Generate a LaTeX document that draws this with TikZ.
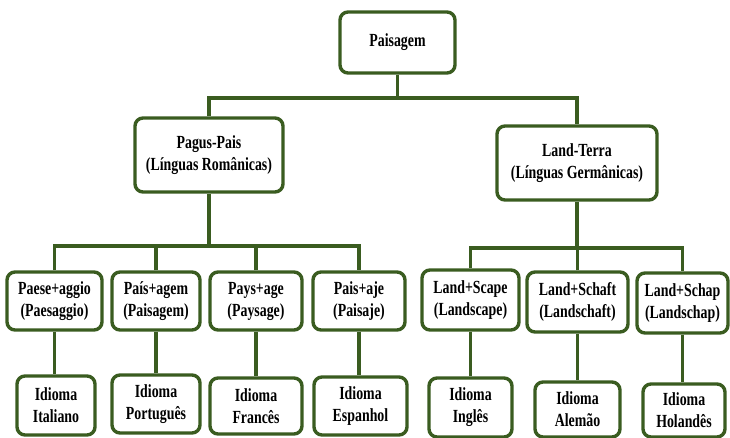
\documentclass[tikz,border=0pt]{standalone}
\usepackage{fontspec}
\setmainfont{Liberation Serif}[FakeStretch=0.75]
\definecolor{boxgreen}{RGB}{58,92,32}
\begin{document}
\begin{tikzpicture}[x=1pt,y=-1pt,
  box/.style={draw=boxgreen, line width=3.4pt, rounded corners=8pt, fill=white,
    align=center, inner sep=2pt, font=\bfseries\fontsize{18.5}{22}\selectfont},
  link/.style={draw=boxgreen, line width=3.4pt}]
\useasboundingbox (0,0) rectangle (730,438);
% level 1
\node[box, minimum width=115pt, minimum height=61pt] (top) at (397.5,42.5) {Paisagem};
% level 2
\node[box, minimum width=148pt, minimum height=74pt] (pagus) at (209,155) {Pagus-Pais\\(Línguas Românicas)};
\node[box, minimum width=160pt, minimum height=74pt] (land) at (577,163) {Land-Terra\\(Línguas Germânicas)};
% level 3
\node[box, minimum width=95pt, minimum height=58pt] (paese) at (54.5,301) {Paese+aggio\\(Paesaggio)};
\node[box, minimum width=88pt, minimum height=58pt] (agem) at (156,301) {País+agem\\(Paisagem)};
\node[box, minimum width=92pt, minimum height=58pt] (pays) at (256,301) {Pays+age\\(Paysage)};
\node[box, minimum width=92pt, minimum height=58pt] (aje) at (359,301) {Pais+aje\\(Paisaje)};
\node[box, minimum width=97pt, minimum height=60pt] (scape) at (470.5,300) {Land+Scape\\(Landscape)};
\node[box, minimum width=101pt, minimum height=60pt] (schaft) at (577.5,302) {Land+Schaft\\(Landschaft)};
\node[box, minimum width=91pt, minimum height=60pt] (schap) at (682.5,303) {Land+Schap\\(Landschap)};
% level 4
\node[box, minimum width=78pt, minimum height=59pt] (ita) at (56,405.5) {Idioma\\Italiano};
\node[box, minimum width=88pt, minimum height=58pt] (por) at (156,404) {Idioma\\Português};
\node[box, minimum width=92pt, minimum height=56pt] (fra) at (256,406) {Idioma\\Francês};
\node[box, minimum width=93pt, minimum height=58pt] (esp) at (360.5,406) {Idioma\\Espanhol};
\node[box, minimum width=83pt, minimum height=59pt] (ing) at (470.5,407.5) {Idioma\\Inglês};
\node[box, minimum width=85pt, minimum height=55pt] (ale) at (577.5,409.5) {Idioma\\Alemão};
\node[box, minimum width=82pt, minimum height=53pt] (hol) at (684,410.5) {Idioma\\Holandês};
% junctions
\coordinate (j1) at (397.5,98);
\coordinate (j2) at (209,246);
\coordinate (j3) at (577,248);
% connectors
\draw[link] (top.south) -- (j1);
\draw[link] (pagus.north) |- (j1) -| (land.north);
\draw[link] (pagus.south) -- (j2);
\draw[link] (paese.north) |- (j2) -| (aje.north);
\draw[link] (agem.north) -- (agem.north |- j2);
\draw[link] (pays.north) -- (pays.north |- j2);
\draw[link] (land.south) -- (j3);
\draw[link] (scape.north) |- (j3) -| (schap.north);
\draw[link] (schaft.north) -- (schaft.north |- j3);
\draw[link] (paese.south) -- (paese.south |- ita.north);
\draw[link] (agem.south) -- (agem.south |- por.north);
\draw[link] (pays.south) -- (pays.south |- fra.north);
\draw[link] (aje.south) -- (aje.south |- esp.north);
\draw[link] (scape.south) -- (scape.south |- ing.north);
\draw[link] (schaft.south) -- (schaft.south |- ale.north);
\draw[link] (schap.south) -- (schap.south |- hol.north);
\end{tikzpicture}
\end{document}
